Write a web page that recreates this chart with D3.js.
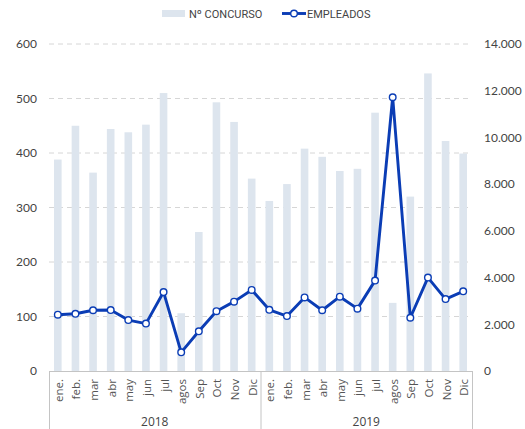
<!DOCTYPE html>
<html>
<head>
<meta charset="utf-8">
<script src="https://cdn.jsdelivr.net/npm/d3@7"></script>
<style>
  body { margin: 0; background: #fff; }
  svg { display: block; font-family: "Lato", "Open Sans", sans-serif; }
</style>
</head>
<body>
<svg id="chart" width="525" height="429"></svg>
<script>
// data
const years = ["2018", "2019"];
const months = ["ene.", "feb.", "mar", "abr", "may", "jun", "jul", "agos", "Sep", "Oct", "Nov", "Dic"];
const months2019 = ["ene.", "feb.", "mar", "abr", "may", "jun", "jul", "agos", "Sep", "Oct", "Nov", "Dic"];
const concurso = [388, 450, 364, 444, 438, 452, 510, 106, 255, 493, 457, 353,
                  312, 343, 408, 393, 367, 371, 474, 125, 320, 546, 422, 399];
const empleados = [2410, 2450, 2600, 2610, 2180, 2030, 3380, 800, 1700, 2560, 2970, 3470,
                   2620, 2350, 3150, 2600, 3180, 2670, 3870, 11720, 2280, 4000, 3080, 3410];
const leftTicks = [0, 100, 200, 300, 400, 500, 600];
const rightTicks = [0, 2000, 4000, 6000, 8000, 10000, 12000, 14000];

const svg = d3.select("#chart");
const xLeft = 49, xRight = 472, yTop = 44, yBottom = 371;
const barColor = "#dde5ee";
const lineColor = "#0b3db5";

// one category per month, keyed by index so the two years stay apart
const cats = d3.range(concurso.length);
const catLabels = months.concat(months2019);

const x = d3.scaleBand().domain(cats).range([xLeft, xRight]).paddingInner(0).paddingOuter(0);
const yL = d3.scaleLinear().domain([0, 600]).range([yBottom, yTop]);
const yR = d3.scaleLinear().domain([0, 14000]).range([yBottom, yTop]);

// gridlines
svg.append("g")
  .selectAll("line")
  .data(leftTicks.filter((d) => d > 0))
  .join("line")
  .attr("x1", xLeft)
  .attr("x2", xRight)
  .attr("y1", (d) => yL(d))
  .attr("y2", (d) => yL(d))
  .attr("stroke", "#d6d6d6")
  .attr("stroke-dasharray", "5,4");

// left axis
const axL = svg.append("g")
  .attr("transform", "translate(" + (xLeft - 12) + ",0)")
  .call(d3.axisLeft(yL).tickValues(leftTicks).tickSize(0).tickPadding(0));
axL.select(".domain").remove();
axL.selectAll("text").attr("font-size", "12px").attr("fill", "#444").attr("font-family", "Lato, sans-serif");

// right axis
const fmt = (d) => d3.format(",")(d).replace(/,/g, ".");
const axR = svg.append("g")
  .attr("transform", "translate(" + (xRight + 12) + ",0)")
  .call(d3.axisRight(yR).tickValues(rightTicks).tickFormat(fmt).tickSize(0).tickPadding(0));
axR.select(".domain").remove();
axR.selectAll("text").attr("font-size", "12px").attr("fill", "#444").attr("font-family", "Lato, sans-serif");

// bars
const barW = 7.6;
svg.append("g")
  .selectAll("rect")
  .data(concurso)
  .join("rect")
  .attr("x", (d, i) => x(i) + x.bandwidth() / 2 - barW / 2)
  .attr("width", barW)
  .attr("y", (d) => yL(d))
  .attr("height", (d) => yL(0) - yL(d))
  .attr("fill", barColor);

// category frame
const frame = svg.append("g").attr("stroke", "#c4c4c4").attr("fill", "none");
frame.append("line").attr("x1", xLeft).attr("x2", xRight).attr("y1", yBottom + 0.5).attr("y2", yBottom + 0.5);
[0, 12, 24].forEach((i) => {
  const xx = i < 24 ? x(i) : xRight;
  frame.append("line").attr("x1", xx + 0.5).attr("x2", xx + 0.5).attr("y1", yBottom).attr("y2", 440);
});

// month labels
svg.append("g")
  .selectAll("text")
  .data(cats)
  .join("text")
  .attr("transform", (i) => "translate(" + (x(i) + x.bandwidth() / 2 + 5) + "," + (yBottom + 8) + ") rotate(-90)")
  .attr("text-anchor", "end")
  .attr("font-size", "11.5px")
  .attr("fill", "#555")
  .attr("font-family", "Open Sans, sans-serif")
  .text((i) => catLabels[i]);

// year labels
svg.append("g")
  .selectAll("text")
  .data(years)
  .join("text")
  .attr("x", (d, j) => (x(j * 12) + (j === 0 ? x(12) : xRight)) / 2)
  .attr("y", 426)
  .attr("text-anchor", "middle")
  .attr("font-size", "12px")
  .attr("fill", "#444")
  .attr("font-family", "Open Sans, sans-serif")
  .text((d) => d);

// line
const line = d3.line()
  .x((d, i) => x(i) + x.bandwidth() / 2)
  .y((d) => yR(d));

svg.append("path")
  .datum(empleados)
  .attr("fill", "none")
  .attr("stroke", lineColor)
  .attr("stroke-width", 2.9)
  .attr("stroke-linejoin", "round")
  .attr("d", line);

svg.append("g")
  .selectAll("circle")
  .data(empleados)
  .join("circle")
  .attr("cx", (d, i) => x(i) + x.bandwidth() / 2)
  .attr("cy", (d) => yR(d))
  .attr("r", 3.3)
  .attr("fill", "#fff")
  .attr("stroke", lineColor)
  .attr("stroke-width", 1.4);

// legend
const leg = svg.append("g").attr("font-size", "11px").attr("fill", "#444").attr("font-family", "Roboto, sans-serif");
leg.append("rect").attr("x", 162).attr("y", 10).attr("width", 23).attr("height", 7).attr("fill", barColor);
leg.append("text").attr("x", 189).attr("y", 17.5).text("Nº CONCURSO");
leg.append("line").attr("x1", 282).attr("x2", 306).attr("y1", 13.5).attr("y2", 13.5)
  .attr("stroke", lineColor).attr("stroke-width", 2.9);
leg.append("circle").attr("cx", 294).attr("cy", 13.5).attr("r", 3.3)
  .attr("fill", "#fff").attr("stroke", lineColor).attr("stroke-width", 1.4);
leg.append("text").attr("x", 307).attr("y", 17.5).text("EMPLEADOS");
</script>
</body>
</html>
